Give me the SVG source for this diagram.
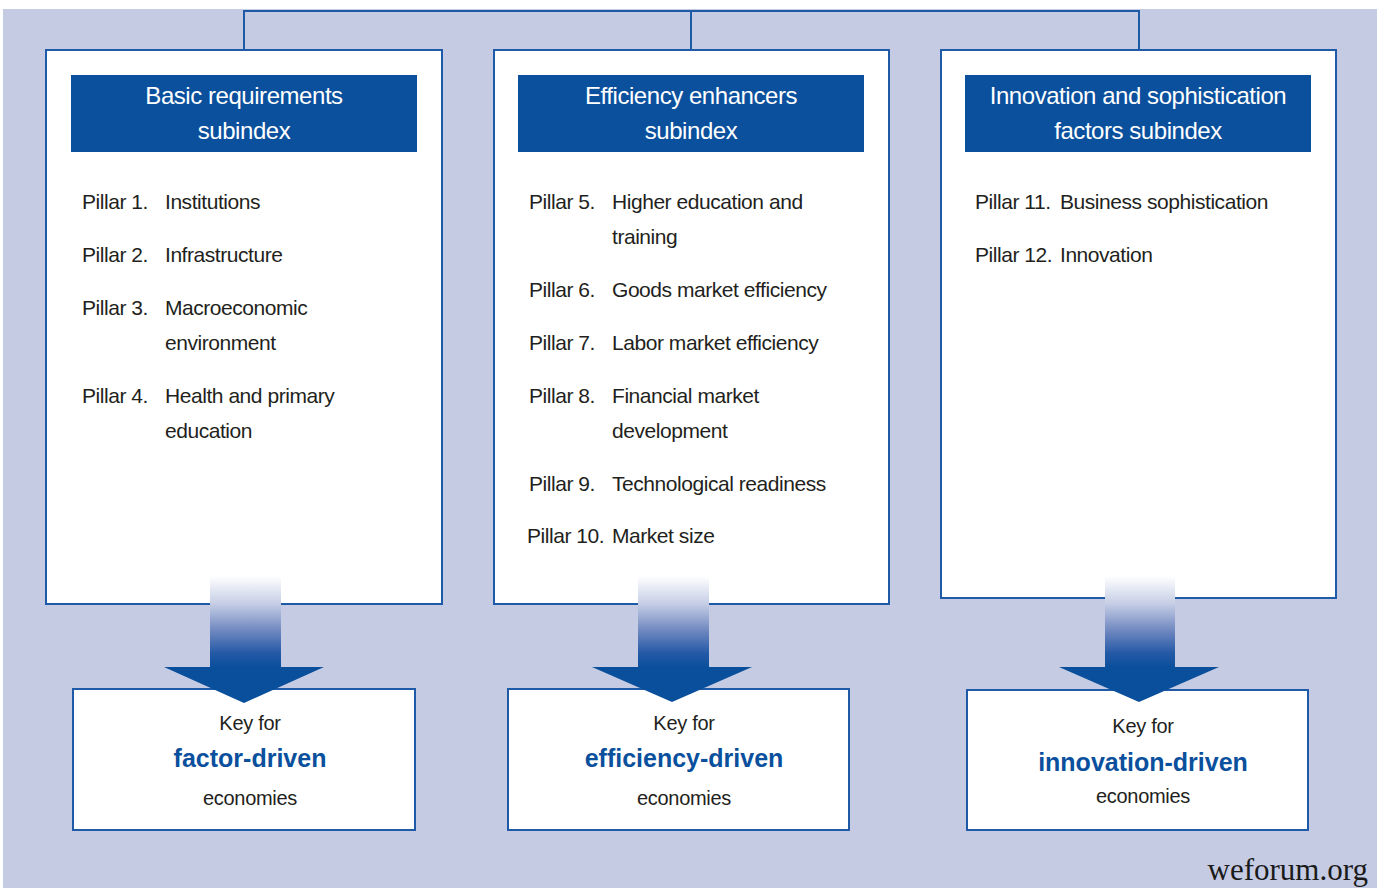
<svg xmlns="http://www.w3.org/2000/svg" width="1377" height="888" viewBox="0 0 1377 888">
<defs>
<linearGradient id="shaft" x1="0" y1="576" x2="0" y2="667" gradientUnits="userSpaceOnUse">
<stop offset="0" stop-color="#ffffff"/>
<stop offset="0.3" stop-color="#c7cfe6"/>
<stop offset="0.6" stop-color="#6f88c0"/>
<stop offset="0.85" stop-color="#2459a6"/>
<stop offset="1" stop-color="#0a4f9c"/>
</linearGradient>
<style>
.box{fill:#ffffff;stroke:#1f5aa6;stroke-width:2}
.hdr{fill:#0a509d}
.ht{font-family:"Liberation Sans",Arial,sans-serif;font-size:24px;letter-spacing:-0.45px;fill:#ffffff;text-anchor:middle}
.p{font-family:"Liberation Sans",Arial,sans-serif;font-size:21px;letter-spacing:-0.45px;fill:#231f20}
.k{font-family:"Liberation Sans",Arial,sans-serif;font-size:20px;letter-spacing:-0.3px;fill:#231f20;text-anchor:middle}
.kb{font-family:"Liberation Sans",Arial,sans-serif;font-size:25px;font-weight:bold;fill:#0a509d;text-anchor:middle}
.conn{fill:none;stroke:#1f5aa6;stroke-width:2}
.head{fill:#0a4f9c}
</style>
</defs>
<rect x="0" y="0" width="1377" height="888" fill="#ffffff"/>
<rect x="3" y="9" width="1374" height="879" fill="#c5cbe3"/>

<g id="connectors">
<path class="conn" d="M244 50 V11 H1139 V50 M691 11 V50"/>
</g>

<g id="basic">
<rect class="box" x="46" y="50" width="396" height="554"/>
<rect class="hdr" x="71" y="75" width="346" height="77"/>
<text class="ht" x="244" y="104">Basic requirements</text>
<text class="ht" x="244" y="139">subindex</text>
<text class="p" x="82" y="209">Pillar 1.</text><text class="p" x="165" y="209">Institutions</text>
<text class="p" x="82" y="262">Pillar 2.</text><text class="p" x="165" y="262">Infrastructure</text>
<text class="p" x="82" y="315">Pillar 3.</text><text class="p" x="165" y="315">Macroeconomic</text>
<text class="p" x="165" y="350">environment</text>
<text class="p" x="82" y="403">Pillar 4.</text><text class="p" x="165" y="403">Health and primary</text>
<text class="p" x="165" y="438">education</text>
</g>

<g id="efficiency">
<rect class="box" x="494" y="50" width="395" height="554"/>
<rect class="hdr" x="518" y="75" width="346" height="77"/>
<text class="ht" x="691" y="104">Efficiency enhancers</text>
<text class="ht" x="691" y="139">subindex</text>
<text class="p" x="529" y="209">Pillar 5.</text><text class="p" x="612" y="209">Higher education and</text>
<text class="p" x="612" y="244">training</text>
<text class="p" x="529" y="297">Pillar 6.</text><text class="p" x="612" y="297">Goods market efficiency</text>
<text class="p" x="529" y="350">Pillar 7.</text><text class="p" x="612" y="350">Labor market efficiency</text>
<text class="p" x="529" y="403">Pillar 8.</text><text class="p" x="612" y="403">Financial market</text>
<text class="p" x="612" y="438">development</text>
<text class="p" x="529" y="491">Pillar 9.</text><text class="p" x="612" y="491">Technological readiness</text>
<text class="p" x="527" y="543">Pillar 10.</text><text class="p" x="612" y="543">Market size</text>
</g>

<g id="innovation">
<rect class="box" x="941" y="50" width="395" height="548"/>
<rect class="hdr" x="965" y="75" width="346" height="77"/>
<text class="ht" x="1138" y="104">Innovation and sophistication</text>
<text class="ht" x="1138" y="139">factors subindex</text>
<text class="p" x="975" y="209">Pillar 11.</text><text class="p" x="1060" y="209">Business sophistication</text>
<text class="p" x="975" y="262">Pillar 12.</text><text class="p" x="1060" y="262">Innovation</text>
</g>

<g id="key-factor">
<rect class="box" x="73" y="689" width="342" height="141"/>
<text class="k" x="250" y="730">Key for</text>
<text class="kb" x="250" y="767">factor-driven</text>
<text class="k" x="250" y="805">economies</text>
</g>
<g id="key-efficiency">
<rect class="box" x="508" y="689" width="341" height="141"/>
<text class="k" x="684" y="730">Key for</text>
<text class="kb" x="684" y="767">efficiency-driven</text>
<text class="k" x="684" y="805">economies</text>
</g>
<g id="key-innovation">
<rect class="box" x="967" y="690" width="341" height="140"/>
<text class="k" x="1143" y="733">Key for</text>
<text class="kb" x="1143" y="771">innovation-driven</text>
<text class="k" x="1143" y="803">economies</text>
</g>

<g id="arrows">
<rect x="210" y="576" width="71" height="92" fill="url(#shaft)"/>
<polygon class="head" points="164,667 324,667 244,703"/>
<rect x="638" y="576" width="71" height="92" fill="url(#shaft)"/>
<polygon class="head" points="592,667 752,667 672,702"/>
<rect x="1105" y="576" width="70" height="92" fill="url(#shaft)"/>
<polygon class="head" points="1059,667 1219,667 1139,702"/>
</g>

<text x="1368" y="880" text-anchor="end" font-family="'Liberation Serif','Times New Roman',serif" font-size="31" fill="#1a1a1a">weforum.org</text>
</svg>
